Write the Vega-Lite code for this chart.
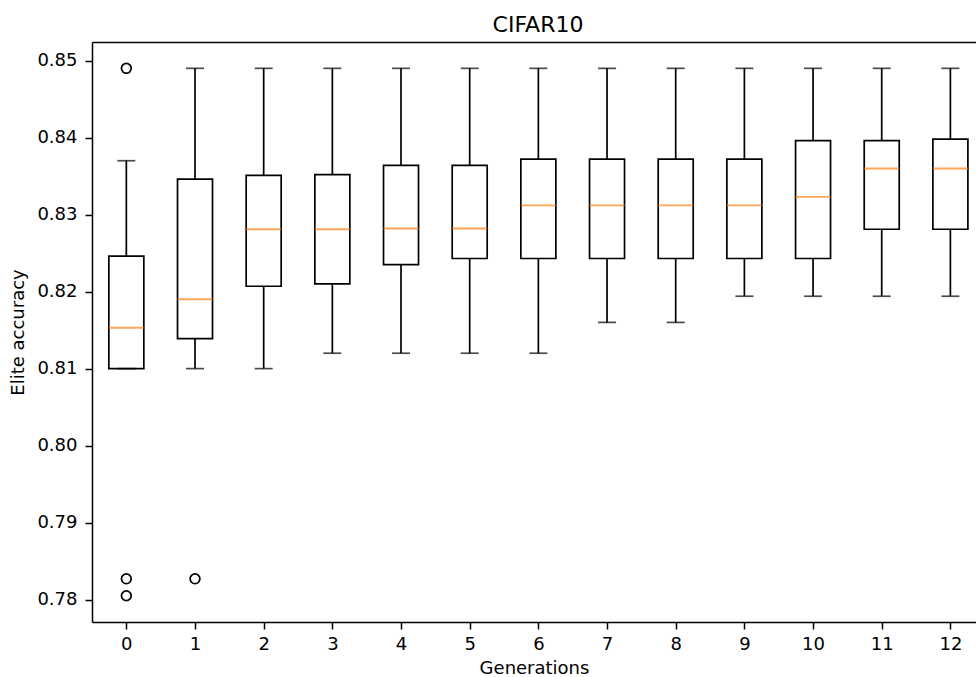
{
  "$schema": "https://vega.github.io/schema/vega-lite/v6.json",
  "width": 884,
  "height": 580,
  "autosize": {"type": "none"},
  "padding": {"left": 92, "top": 42, "right": 0, "bottom": 55},
  "background": "white",
  "title": {"text": "CIFAR10", "font": "DejaVu Sans", "fontSize": 22, "fontWeight": "normal", "color": "black", "offset": 5, "dx": 4},
  "config": {
    "view": {"stroke": null},
    "axis": {
      "grid": false,
      "domainColor": "black",
      "domainWidth": 1.5,
      "tickColor": "black",
      "tickWidth": 1.5,
      "tickSize": 7,
      "labelFont": "DejaVu Sans",
      "labelFontSize": 18,
      "labelColor": "black",
      "titleFont": "DejaVu Sans",
      "titleFontSize": 18,
      "titleFontWeight": "normal",
      "titleColor": "black"
    }
  },
  "resolve": {"axis": {"x": "independent"}},
  "datasets": {
    "boxes": [
      {"gen": 0, "lo": 0.810, "q1": 0.8100, "med": 0.8153, "q3": 0.8246, "hi": 0.8370},
      {"gen": 1, "lo": 0.810, "q1": 0.8139, "med": 0.8190, "q3": 0.8346, "hi": 0.849},
      {"gen": 2, "lo": 0.810, "q1": 0.8207, "med": 0.8281, "q3": 0.8351, "hi": 0.849},
      {"gen": 3, "lo": 0.812, "q1": 0.8210, "med": 0.8281, "q3": 0.8352, "hi": 0.849},
      {"gen": 4, "lo": 0.812, "q1": 0.8235, "med": 0.8282, "q3": 0.8364, "hi": 0.849},
      {"gen": 5, "lo": 0.812, "q1": 0.8243, "med": 0.8282, "q3": 0.8364, "hi": 0.849},
      {"gen": 6, "lo": 0.812, "q1": 0.8243, "med": 0.8312, "q3": 0.8372, "hi": 0.849},
      {"gen": 7, "lo": 0.816, "q1": 0.8243, "med": 0.8312, "q3": 0.8372, "hi": 0.849},
      {"gen": 8, "lo": 0.816, "q1": 0.8243, "med": 0.8312, "q3": 0.8372, "hi": 0.849},
      {"gen": 9, "lo": 0.8194, "q1": 0.8243, "med": 0.8312, "q3": 0.8372, "hi": 0.849},
      {"gen": 10, "lo": 0.8194, "q1": 0.8243, "med": 0.8323, "q3": 0.8396, "hi": 0.849},
      {"gen": 11, "lo": 0.8194, "q1": 0.8281, "med": 0.8360, "q3": 0.8396, "hi": 0.849},
      {"gen": 12, "lo": 0.8194, "q1": 0.8281, "med": 0.8360, "q3": 0.8398, "hi": 0.849}
    ],
    "outliers": [
      {"gen": 0, "acc": 0.8490},
      {"gen": 0, "acc": 0.7827},
      {"gen": 0, "acc": 0.7805},
      {"gen": 1, "acc": 0.7827}
    ]
  },
  "layer": [
    {
      "data": {"name": "boxes"},
      "mark": {"type": "rule", "color": "black", "strokeWidth": 1.7},
      "encoding": {
        "x": {"field": "gen", "type": "quantitative", "scale": {"domain": [-0.5, 12.373], "nice": false, "zero": false, "padding": 0},
              "axis": {"title": "Generations", "values": [0,1,2,3,4,5,6,7,8,9,10,11,12], "format": "d", "labelPadding": 6, "titlePadding": 6}},
        "y": {"field": "lo", "type": "quantitative", "scale": {"domain": [0.77709, 0.85242], "nice": false, "zero": false, "padding": 0},
              "axis": {"title": "Elite accuracy", "values": [0.78,0.79,0.80,0.81,0.82,0.83,0.84,0.85], "format": ".2f", "labelPadding": 8, "titlePadding": 9}},
        "y2": {"field": "q1"}
      }
    },
    {
      "data": {"name": "boxes"},
      "mark": {"type": "rule", "color": "black", "strokeWidth": 1.7},
      "encoding": {
        "x": {"field": "gen", "type": "quantitative",
              "axis": {"orient": "top", "labels": false, "ticks": false, "title": null}},
        "y": {"field": "q3", "type": "quantitative"},
        "y2": {"field": "hi"}
      }
    },
    {
      "data": {"name": "boxes"},
      "mark": {"type": "bar", "size": 35, "fill": "white", "fillOpacity": 0, "stroke": "black", "strokeWidth": 1.7},
      "encoding": {
        "x": {"field": "gen", "type": "quantitative", "axis": null},
        "y": {"field": "q1", "type": "quantitative"},
        "y2": {"field": "q3"}
      }
    },
    {
      "data": {"name": "boxes"},
      "mark": {"type": "tick", "orient": "horizontal", "size": 18, "thickness": 1.7, "color": "black"},
      "encoding": {
        "x": {"field": "gen", "type": "quantitative", "axis": null},
        "y": {"field": "lo", "type": "quantitative"}
      }
    },
    {
      "data": {"name": "boxes"},
      "mark": {"type": "tick", "orient": "horizontal", "size": 18, "thickness": 1.7, "color": "black"},
      "encoding": {
        "x": {"field": "gen", "type": "quantitative", "axis": null},
        "y": {"field": "hi", "type": "quantitative"}
      }
    },
    {
      "data": {"name": "boxes"},
      "mark": {"type": "tick", "orient": "horizontal", "size": 35, "thickness": 1.9, "color": "#ff7f0e"},
      "encoding": {
        "x": {"field": "gen", "type": "quantitative", "axis": null},
        "y": {"field": "med", "type": "quantitative"}
      }
    },
    {
      "data": {"name": "outliers"},
      "mark": {"type": "point", "shape": "circle", "filled": false, "size": 95, "stroke": "black", "strokeWidth": 1.7, "opacity": 1},
      "encoding": {
        "x": {"field": "gen", "type": "quantitative", "axis": null},
        "y": {"field": "acc", "type": "quantitative"}
      }
    }
  ]
}
